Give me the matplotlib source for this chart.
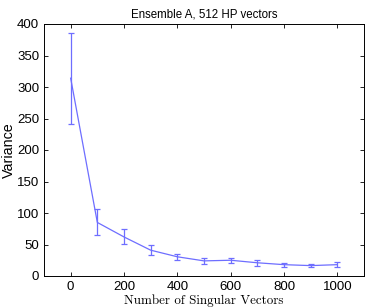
import numpy as np
import matplotlib
matplotlib.use('Agg')
import matplotlib.pyplot as plt

n_vectors = [0, 100, 200, 300, 400, 500, 600, 700, 800, 900, 1000]
variance = [314, 85, 62, 41, 30.5, 24, 25, 21, 18, 16.5, 18]
err_low = [72, 20, 11, 8, 5.5, 5, 5, 5, 3, 3, 4]
err_high = [72, 21, 12.5, 7.5, 5, 4, 4, 4, 3, 3, 4]

plt.rcParams['font.family'] = ['Liberation Sans', 'DejaVu Sans']
fig = plt.figure(figsize=(3.66, 3.07), dpi=100)
ax = fig.add_axes([44 / 366, 1 - 276 / 307, 320 / 366, 252 / 307])

ax.errorbar(n_vectors, variance, yerr=[err_low, err_high], color='#6e6eff',
            lw=0.9, elinewidth=0.9, capsize=2.5, capthick=0.9)

ax.set_xlim(-100, 1100)
ax.set_ylim(0, 400)
ax.set_xticks(range(0, 1001, 200))
ax.set_yticks(range(0, 401, 50))
ax.tick_params(direction='in', top=True, right=True, labelsize=9.5, length=3, width=0.6)
for s in ax.spines.values():
    s.set_linewidth(0.7)

ax.set_title('Ensemble A, 512 HP vectors', fontsize=8.3, pad=5)
ax.set_ylabel('Variance', fontsize=10.3, labelpad=1)
ax.set_xlabel('Number of Singular Vectors', fontsize=9.4, family='cmr10', labelpad=1)

fig.savefig('out.png', dpi=100)
